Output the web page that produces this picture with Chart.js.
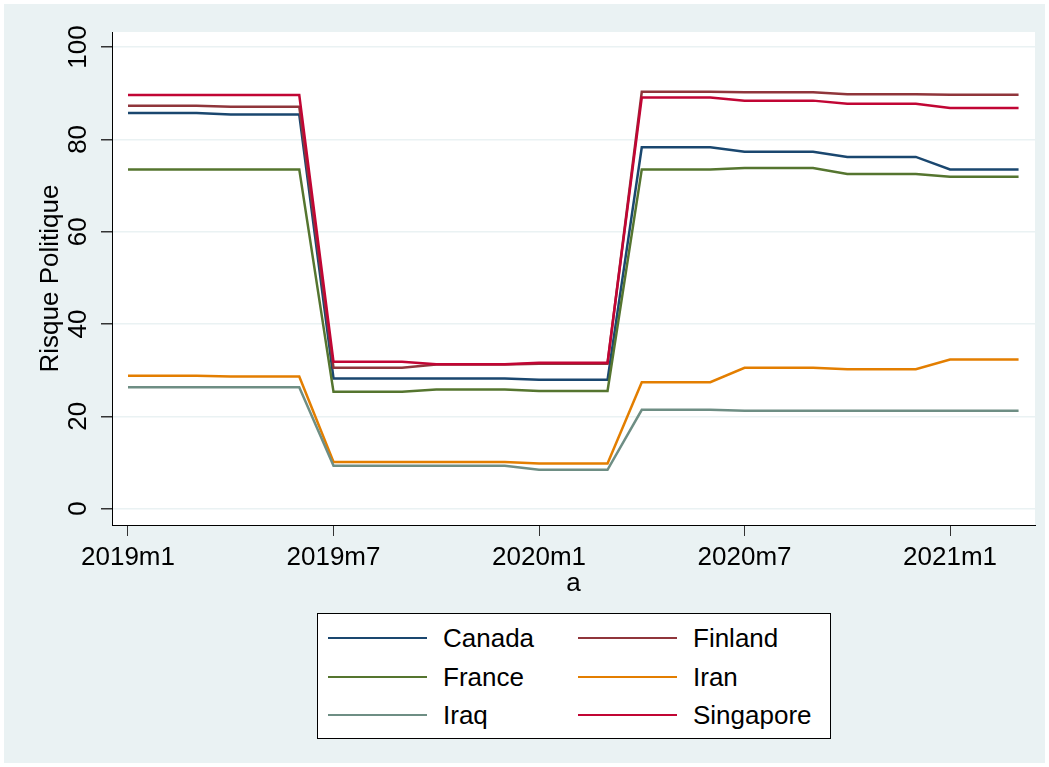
<!DOCTYPE html>
<html>
<head>
<meta charset="utf-8">
<script src="https://cdn.jsdelivr.net/npm/chart.js@4.4.0/dist/chart.umd.min.js"></script>
<style>
  body { margin: 0; background: #fff; }
  #frame { position: absolute; left: 4px; top: 4px; width: 1041px; height: 759px; background: #eaf2f3; }
  #chart { position: absolute; left: 0; top: 0; }
  #legend { position: absolute; left: 317px; top: 613px; width: 514px; height: 126px; box-sizing: border-box;
            border: 1px solid #000; background: #fff; font-family: "Liberation Sans", Arial, sans-serif; font-size: 26px; }
  .item { position: absolute; height: 30px; }
  .item .swatch { position: absolute; left: 0; top: 14px; width: 99px; height: 2px; }
  .item .label { position: absolute; left: 115px; top: 0; line-height: 30px; white-space: nowrap; }
</style>
</head>
<body>
<div id="frame"></div>
<canvas id="chart" width="1049" height="767"></canvas>
<div id="legend"></div>
<script>
const months = [
  '2019m1', '2019m2', '2019m3', '2019m4', '2019m5', '2019m6',
  '2019m7', '2019m8', '2019m9', '2019m10', '2019m11', '2019m12',
  '2020m1', '2020m2', '2020m3', '2020m4', '2020m5', '2020m6',
  '2020m7', '2020m8', '2020m9', '2020m10', '2020m11', '2020m12',
  '2021m1', '2021m2', '2021m3'
];
const xTicks = [0, 6, 12, 18, 24];
const yTicks = [0, 20, 40, 60, 80, 100];

const canada = [85.7, 85.7, 85.7, 85.4, 85.4, 85.4, 28.2, 28.2, 28.2, 28.2, 28.2, 28.2,
  27.9, 27.9, 27.9, 78.3, 78.3, 78.3, 77.3, 77.3, 77.3, 76.2, 76.2, 76.2, 73.5, 73.5, 73.5];
const finland = [87.3, 87.3, 87.3, 87.1, 87.1, 87.1, 30.5, 30.5, 30.5, 31.2, 31.2, 31.2,
  31.4, 31.4, 31.4, 90.3, 90.3, 90.3, 90.2, 90.2, 90.2, 89.8, 89.8, 89.8, 89.7, 89.7, 89.7];
const france = [73.5, 73.5, 73.5, 73.5, 73.5, 73.5, 25.3, 25.3, 25.3, 25.8, 25.8, 25.8,
  25.5, 25.5, 25.5, 73.5, 73.5, 73.5, 73.8, 73.8, 73.8, 72.5, 72.5, 72.5, 71.9, 71.9, 71.9];
const iran = [28.8, 28.8, 28.8, 28.6, 28.6, 28.6, 10.1, 10.1, 10.1, 10.1, 10.1, 10.1,
  9.8, 9.8, 9.8, 27.4, 27.4, 27.4, 30.5, 30.5, 30.5, 30.2, 30.2, 30.2, 32.3, 32.3, 32.3];
const iraq = [26.3, 26.3, 26.3, 26.3, 26.3, 26.3, 9.3, 9.3, 9.3, 9.3, 9.3, 9.3,
  8.4, 8.4, 8.4, 21.4, 21.4, 21.4, 21.2, 21.2, 21.2, 21.2, 21.2, 21.2, 21.2, 21.2, 21.2];
const singapore = [89.6, 89.6, 89.6, 89.6, 89.6, 89.6, 31.8, 31.8, 31.8, 31.3, 31.3, 31.3,
  31.6, 31.6, 31.6, 89.1, 89.1, 89.1, 88.4, 88.4, 88.4, 87.7, 87.7, 87.7, 86.8, 86.8, 86.8];

const series = [
  { name: 'Canada', values: canada, color: '#1a476f' },
  { name: 'Finland', values: finland, color: '#90353b' },
  { name: 'France', values: france, color: '#55752f' },
  { name: 'Iran', values: iran, color: '#e37e00' },
  { name: 'Iraq', values: iraq, color: '#6e8e84' },
  { name: 'Singapore', values: singapore, color: '#c10534' },
];

Chart.defaults.font.family = '"Liberation Sans", Arial, sans-serif';
Chart.defaults.font.size = 26;
Chart.defaults.color = '#000';

// white plot region like stata's plotregion
const plotBackground = {
  id: 'plotBackground',
  beforeDraw(chart) {
    const { ctx, chartArea } = chart;
    ctx.save();
    ctx.fillStyle = '#fff';
    ctx.fillRect(chartArea.left, chartArea.top, chartArea.right - chartArea.left, chartArea.bottom - chartArea.top);
    ctx.restore();
  }
};

const chart = new Chart(document.getElementById('chart'), {
  type: 'line',
  data: {
    datasets: series.map((s, i) => ({
      label: s.name,
      data: s.values.map((v, j) => ({ x: j, y: v })),
      borderColor: s.color,
      backgroundColor: s.color,
      borderWidth: 2.5,
      pointRadius: 0,
      tension: 0,
      order: series.length - i,
    })),
  },
  options: {
    responsive: false,
    animation: false,
    layout: { padding: { left: 20, top: 32, right: 14, bottom: 162 } },
    plugins: { legend: { display: false }, tooltip: { enabled: false } },
    scales: {
      x: {
        type: 'linear',
        min: -0.467,
        max: 26.48,
        afterBuildTicks: (scale) => { scale.ticks = xTicks.map(v => ({ value: v })); },
        afterFit: (scale) => { scale.height = 80; },
        ticks: { callback: (v) => months[v], padding: 6, maxRotation: 0, minRotation: 0 },
        grid: { drawOnChartArea: false, tickLength: 11, tickColor: '#333', lineWidth: 1 },
        border: { color: '#000', width: 1 },
        title: { display: true, text: 'a', padding: { top: 0, bottom: 6 } },
      },
      y: {
        min: -3.55,
        max: 103.27,
        afterBuildTicks: (scale) => { scale.ticks = yTicks.map(v => ({ value: v })); },
        afterFit: (scale) => { scale.width = 92; },
        ticks: { minRotation: 90, maxRotation: 90, crossAlign: 'center', padding: 0 },
        grid: { color: '#eaf2f3', lineWidth: 1.5, tickLength: 11, tickColor: '#333' },
        border: { color: '#000', width: 1 },
        title: { display: true, text: 'Risque Politique', padding: { top: 15, bottom: 0 } },
      },
    },
  },
  plugins: [plotBackground],
});

// legend box in two columns, built from the chart's datasets
const legend = document.getElementById('legend');
chart.data.datasets.forEach((ds, i) => {
  const item = document.createElement('div');
  item.className = 'item';
  item.style.left = (i % 2 === 0 ? 10 : 260) + 'px';
  item.style.top = (9 + Math.floor(i / 2) * 38.5) + 'px';
  item.innerHTML = '<div class="swatch" style="background:' + ds.borderColor + '"></div><div class="label">' + ds.label + '</div>';
  legend.appendChild(item);
});
</script>
</body>
</html>
